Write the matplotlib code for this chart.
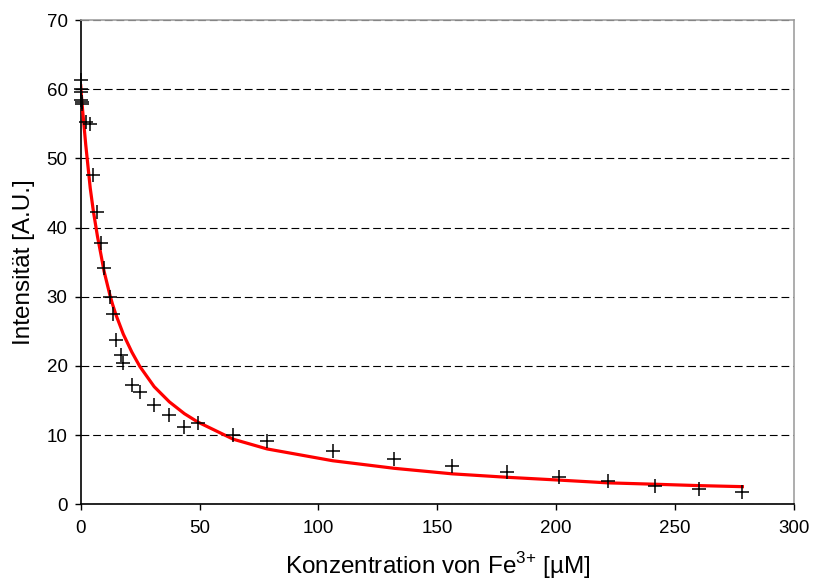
import matplotlib
matplotlib.use("Agg")
import matplotlib.pyplot as plt

plt.rcParams['font.family'] = ['Liberation Sans', 'DejaVu Sans']
plt.rcParams['mathtext.fontset'] = 'custom'
plt.rcParams['mathtext.rm'] = 'Liberation Sans'

konz = [0, 0.1, 0.2, 0.3, 0.4, 0.5, 2.1, 4.0, 5.3, 7.0, 8.5, 9.8, 12.3, 13.4,
        14.8, 16.8, 17.9, 21.5, 24.9, 30.9, 37.3, 43.6, 49.2, 64.2, 78.4,
        105.9, 131.9, 156.3, 179.5, 201.1, 221.6, 241.5, 260.1, 278.3]
intens = [61.3, 60.0, 59.6, 58.4, 58.1, 57.8, 55.3, 54.9, 47.6, 42.2, 37.7,
          34.1, 29.9, 27.5, 23.7, 21.6, 20.4, 17.2, 16.2, 14.4, 12.9, 11.2,
          11.7, 10.0, 9.2, 7.75, 6.55, 5.6, 4.6, 4.0, 3.3, 2.65, 2.2, 1.8]
# Fitkurve an denselben Konzentrationen
fit = [60.5, 60.0, 59.5, 59.0, 58.6, 58.1, 52.0, 45.7, 42.4, 38.8, 36.1,
       33.7, 30.2, 28.9, 27.4, 25.6, 24.6, 22.0, 19.9, 17.0, 14.8, 13.1,
       11.9, 9.4, 8.0, 6.3, 5.2, 4.4, 3.9, 3.5, 3.1, 2.9, 2.7, 2.55]

xticks = [0, 50, 100, 150, 200, 250, 300]
yticks = [0, 10, 20, 30, 40, 50, 60, 70]

fig = plt.figure(figsize=(8.13, 5.87), dpi=100)
ax = fig.add_axes([0.0993, 0.1409, 0.8773, 0.825])

ax.plot(konz, fit, color='#ff0000', linewidth=2.3, zorder=3)
ax.plot(konz, intens, linestyle='none', marker='+', color='black',
        markersize=10, markeredgewidth=1.1, zorder=4, clip_on=False)

ax.set_xlim(0, 300)
ax.set_ylim(0, 70)
ax.set_xticks(xticks)
ax.set_yticks(yticks)
ax.tick_params(direction='out', length=4.5, width=1, labelsize=13.5)
ax.tick_params(axis='x', pad=7)
ax.tick_params(axis='y', pad=5)

ax.yaxis.grid(True, color='black', linestyle=(0, (7, 3.5)), linewidth=0.8)
ax.set_axisbelow(True)

ax.spines['left'].set_color('black')
ax.spines['bottom'].set_color('black')
ax.spines['top'].set_color('#a0a0a0')
ax.spines['right'].set_color('#a0a0a0')
for s in ax.spines.values():
    s.set_linewidth(1.2)

ax.set_xlabel('Konzentration von Fe$^{\\mathregular{3{+}}}$ [µM]', fontsize=17.5, labelpad=4)
ax.set_ylabel('Intensität [A.U.]', fontsize=17.5, labelpad=8)
ax.yaxis.set_label_coords(-0.064, 0.5)
ax.xaxis.set_label_coords(0.5, -0.095)

fig.savefig('out.png', dpi=100)
